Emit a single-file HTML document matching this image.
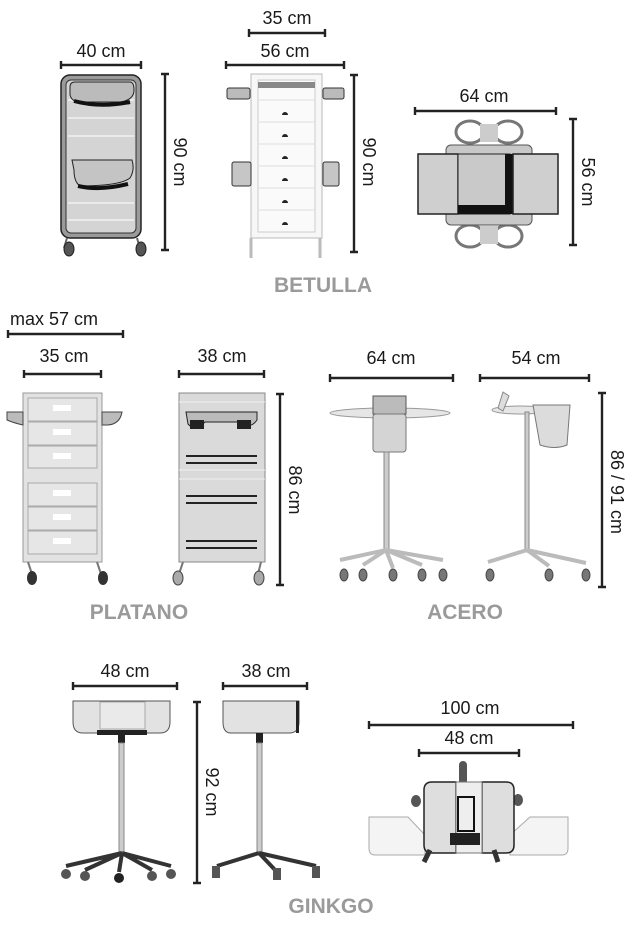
<!DOCTYPE html>
<html><head><meta charset="utf-8"><style>
html,body{margin:0;padding:0;background:#fff}
svg{display:block}
text{font-family:"Liberation Sans",Arial,sans-serif}
.d{font-size:18px;fill:#1a1a1a}
.t{font-size:21px;font-weight:bold;fill:#9a9a9a}
.dl{stroke:#222;stroke-width:2.4;fill:none}
.b{fill:#d9d9d9;stroke:#444;stroke-width:1.2}
.l{fill:#ececec;stroke:#888;stroke-width:1}
.w{fill:#f7f7f7;stroke:#bbb;stroke-width:1}
.k{fill:#222}
.g{fill:#555}
</style></head><body>
<svg width="639" height="925" viewBox="0 0 639 925" xmlns="http://www.w3.org/2000/svg">
<defs>
<g id="hd"><path class="dl" d="M0,-4V4"/></g>
</defs>
<!-- ===== BETULLA ===== -->
<!-- dims -->
<path class="dl" d="M249,33H325M249,29V37M325,29V37"/>
<text class="d" x="287" y="24" text-anchor="middle">35 cm</text>
<path class="dl" d="M226,65H344M226,61V69M344,61V69"/>
<text class="d" x="285" y="57" text-anchor="middle">56 cm</text>
<path class="dl" d="M61,65H141M61,61V69M141,61V69"/>
<text class="d" x="101" y="57" text-anchor="middle">40 cm</text>
<path class="dl" d="M165,74V250M161,74H169M161,250H169"/>
<text class="d" transform="translate(174,162) rotate(90)" text-anchor="middle">90 cm</text>
<path class="dl" d="M354,75V252M350,75H358M350,252H358"/>
<text class="d" transform="translate(363,162) rotate(90)" text-anchor="middle">90 cm</text>
<path class="dl" d="M415,111H556M415,107V115M556,107V115"/>
<text class="d" x="484" y="102" text-anchor="middle">64 cm</text>
<path class="dl" d="M573,119V245M569,119H577M569,245H577"/>
<text class="d" transform="translate(582,182) rotate(90)" text-anchor="middle">56 cm</text>
<!-- cart 1 -->
<rect x="61" y="75" width="80" height="163" rx="9" fill="#9a9a9a" stroke="#222" stroke-width="1.5"/>
<rect x="66" y="80" width="70" height="153" rx="5" fill="#d4d4d4" stroke="#333"/>
<path d="M68,100H134M68,118H134M68,136H134M68,203H134M68,220H134" stroke="#f2f2f2" stroke-width="1.5"/>
<path d="M70,87Q70,82 75,82H130Q134,82 134,90Q134,100 120,102H80Q72,102 70,95Z" fill="#bbb" stroke="#222"/>
<path d="M74,101Q100,108 130,102" stroke="#111" stroke-width="4" fill="none"/>
<path d="M72,160H132Q135,170 130,178Q120,186 80,186Q74,182 74,170Z" fill="#c4c4c4" stroke="#222"/>
<path d="M78,186Q100,191 128,184" stroke="#111" stroke-width="4" fill="none"/>
<path d="M67,238L64,248M137,238L140,248" stroke="#666" stroke-width="2"/>
<ellipse cx="69" cy="249" rx="5" ry="7" fill="#555" stroke="#222"/>
<ellipse cx="141" cy="249" rx="5" ry="7" fill="#555" stroke="#222"/>
<!-- cart 2 -->
<rect x="251" y="74" width="71" height="164" class="w"/>
<rect x="258" y="80" width="57" height="152" fill="#fafafa" stroke="#ccc"/>
<rect x="258" y="82" width="57" height="6" fill="#888"/>
<path d="M258,100H315M258,122H315M258,144H315M258,166H315M258,188H315M258,210H315" stroke="#ddd"/>
<g class="k"><path d="M282,115a3,3 0 0 1 6,0Z"/><path d="M282,137a3,3 0 0 1 6,0Z"/><path d="M282,159a3,3 0 0 1 6,0Z"/><path d="M282,181a3,3 0 0 1 6,0Z"/><path d="M282,203a3,3 0 0 1 6,0Z"/><path d="M282,225a3,3 0 0 1 6,0Z"/></g>
<rect x="227" y="88" width="23" height="11" rx="2" fill="#bbb" stroke="#333"/>
<rect x="323" y="88" width="21" height="11" rx="2" fill="#bbb" stroke="#333"/>
<rect x="232" y="162" width="19" height="24" rx="2" fill="#c6c6c6" stroke="#333"/>
<rect x="323" y="162" width="16" height="24" rx="2" fill="#c6c6c6" stroke="#333"/>
<path d="M251,238V258M320,238V258" stroke="#bbb" stroke-width="3"/>
<!-- top view -->
<g fill="none" stroke="#777" stroke-width="3">
<ellipse cx="470" cy="132" rx="14" ry="11"/><ellipse cx="508" cy="132" rx="14" ry="11"/>
<ellipse cx="470" cy="236" rx="14" ry="11"/><ellipse cx="508" cy="236" rx="14" ry="11"/>
</g>
<rect x="480" y="124" width="18" height="18" fill="#ccc"/>
<rect x="480" y="226" width="18" height="18" fill="#ccc"/>
<rect x="446" y="145" width="86" height="80" rx="5" fill="#c8c8c8" stroke="#555"/>
<rect x="418" y="154" width="40" height="60" fill="#cfcfcf" stroke="#222" stroke-width="1.5"/>
<rect x="458" y="154" width="52" height="60" fill="#c9c9c9" stroke="#222"/>
<rect x="458" y="205" width="52" height="9" fill="#111"/>
<rect x="505" y="154" width="8" height="60" fill="#111"/>
<rect x="513" y="154" width="45" height="60" fill="#cfcfcf" stroke="#222" stroke-width="1.5"/>
<text class="t" x="323" y="292" text-anchor="middle">BETULLA</text>

<!-- ===== PLATANO ===== -->
<path class="dl" d="M8,334H123M8,330V338M123,330V338"/>
<text class="d" x="10" y="325">max 57 cm</text>
<path class="dl" d="M24,374H101M24,370V378M101,370V378"/>
<text class="d" x="64" y="362" text-anchor="middle">35 cm</text>
<path class="dl" d="M179,374H264M179,370V378M264,370V378"/>
<text class="d" x="222" y="362" text-anchor="middle">38 cm</text>
<path class="dl" d="M280,394V585M276,394H284M276,585H284"/>
<text class="d" transform="translate(289,490) rotate(90)" text-anchor="middle">86 cm</text>
<!-- platano 1 -->
<rect x="23" y="393" width="79" height="169" fill="#e2e2e2" stroke="#999"/>
<g fill="#e6e6e6" stroke="#aaa">
<rect x="28" y="398" width="69" height="23"/><rect x="28" y="422" width="69" height="23"/><rect x="28" y="446" width="69" height="22"/>
<rect x="28" y="483" width="69" height="23"/><rect x="28" y="507" width="69" height="23"/><rect x="28" y="531" width="69" height="23"/>
</g>
<g fill="#fff"><rect x="53" y="405" width="18" height="6"/><rect x="53" y="429" width="18" height="6"/><rect x="53" y="453" width="18" height="6"/><rect x="53" y="490" width="18" height="6"/><rect x="53" y="514" width="18" height="6"/><rect x="53" y="538" width="18" height="6"/></g>
<path d="M7,412H23V425Q14,423 7,420Z" fill="#bbb" stroke="#444"/>
<path d="M102,412H122Q120,424 108,425H102Z" fill="#bbb" stroke="#444"/>
<path d="M28,562L32,574M97,562L101,574" stroke="#777" stroke-width="2"/>
<ellipse cx="32" cy="578" rx="5" ry="7" fill="#333"/><ellipse cx="103" cy="578" rx="5" ry="7" fill="#333"/>
<!-- platano 2 -->
<rect x="179" y="393" width="86" height="169" fill="#dadada" stroke="#888"/>
<path d="M179,402H265M179,470H265M179,479H265" stroke="#f0f0f0"/>
<path d="M186,412H257V420Q250,430 240,422H205Q195,432 188,424Z" fill="#bbb" stroke="#222"/>
<rect x="190" y="420" width="14" height="9" class="k"/><rect x="237" y="420" width="14" height="9" class="k"/>
<g class="k"><rect x="186" y="455" width="71" height="2"/><rect x="186" y="462" width="71" height="2"/><rect x="186" y="495" width="71" height="2"/><rect x="186" y="502" width="71" height="2"/><rect x="186" y="540" width="71" height="2"/><rect x="186" y="547" width="71" height="2"/></g>
<path d="M183,562L179,574M261,562L258,574" stroke="#777" stroke-width="2"/>
<ellipse cx="178" cy="578" rx="5" ry="7" fill="#aaa" stroke="#444"/><ellipse cx="259" cy="578" rx="5" ry="7" fill="#aaa" stroke="#444"/>
<text class="t" x="139" y="619" text-anchor="middle">PLATANO</text>

<!-- ===== ACERO ===== -->
<path class="dl" d="M330,378H453M330,374V382M453,374V382"/>
<text class="d" x="391" y="364" text-anchor="middle">64 cm</text>
<path class="dl" d="M480,378H589M480,374V382M589,374V382"/>
<text class="d" x="536" y="364" text-anchor="middle">54 cm</text>
<path class="dl" d="M602,393V587M598,393H606M598,587H606"/>
<text class="d" transform="translate(611,492) rotate(90)" text-anchor="middle">86 / 91 cm</text>
<!-- acero 1 -->
<ellipse cx="390" cy="413" rx="60" ry="5" fill="#e6e6e6" stroke="#999"/>
<rect x="373" y="396" width="33" height="18" fill="#bbb" stroke="#555"/>
<rect x="373" y="414" width="33" height="38" rx="3" fill="#d4d4d4" stroke="#777"/>
<rect x="384" y="452" width="5" height="100" fill="#ccc" stroke="#888"/>
<path d="M386,550L340,560M386,550L363,565M386,550L393,568M386,550L422,565M386,550L443,560" stroke="#bbb" stroke-width="4" fill="none"/>
<g fill="#777" stroke="#444"><ellipse cx="344" cy="575" rx="4" ry="6"/><ellipse cx="363" cy="575" rx="4" ry="6"/><ellipse cx="393" cy="575" rx="4" ry="6"/><ellipse cx="422" cy="575" rx="4" ry="6"/><ellipse cx="443" cy="575" rx="4" ry="6"/></g>
<!-- acero 2 -->
<ellipse cx="520" cy="410" rx="28" ry="4" fill="#e6e6e6" stroke="#999"/>
<path d="M503,392l6,4-6,15-5-3z" fill="#ddd" stroke="#888"/>
<path d="M533,405H570L567,445Q555,450 540,445Z" fill="#dcdcdc" stroke="#777"/>
<rect x="525" y="412" width="4" height="140" fill="#ccc" stroke="#888"/>
<path d="M527,550L488,562M527,550L549,566M527,550L586,563" stroke="#bbb" stroke-width="4" fill="none"/>
<g fill="#777" stroke="#444"><ellipse cx="490" cy="575" rx="4" ry="6"/><ellipse cx="549" cy="575" rx="4" ry="6"/><ellipse cx="586" cy="575" rx="4" ry="6"/></g>
<text class="t" x="465" y="619" text-anchor="middle">ACERO</text>

<!-- ===== GINKGO ===== -->
<path class="dl" d="M73,686H177M73,682V690M177,682V690"/>
<text class="d" x="125" y="677" text-anchor="middle">48 cm</text>
<path class="dl" d="M223,686H307M223,682V690M307,682V690"/>
<text class="d" x="266" y="677" text-anchor="middle">38 cm</text>
<path class="dl" d="M197,702V883M193,702H201M193,883H201"/>
<text class="d" transform="translate(206,792) rotate(90)" text-anchor="middle">92 cm</text>
<path class="dl" d="M369,725H573M369,721V729M573,721V729"/>
<text class="d" x="470" y="714" text-anchor="middle">100 cm</text>
<path class="dl" d="M419,753H519M419,749V757M519,749V757"/>
<text class="d" x="469" y="744" text-anchor="middle">48 cm</text>
<!-- ginkgo 1 -->
<path d="M73,701H170V722Q170,733 160,733H83Q73,733 73,722Z" fill="#e2e2e2" stroke="#555"/>
<rect x="100" y="702" width="45" height="27" fill="#eaeaea" stroke="#aaa"/>
<rect x="97" y="730" width="50" height="5" class="k"/>
<rect x="118" y="733" width="7" height="10" class="k"/>
<rect x="119" y="743" width="5" height="112" fill="#ccc" stroke="#888"/>
<path d="M122,853L66,866M122,853L85,870M122,853L119,872M122,853L152,870M122,853L171,866" stroke="#333" stroke-width="4" fill="none"/>
<g class="g"><circle cx="66" cy="874" r="5"/><circle cx="85" cy="876" r="5"/><circle cx="119" cy="878" r="5" fill="#222"/><circle cx="152" cy="876" r="5"/><circle cx="171" cy="874" r="5"/></g>
<!-- ginkgo 2 -->
<path d="M223,701H299V722Q299,733 289,733H231Q223,733 223,722Z" fill="#e2e2e2" stroke="#555"/>
<rect x="296" y="701" width="3" height="32" class="k"/>
<rect x="256" y="733" width="7" height="10" class="k"/>
<rect x="257" y="743" width="5" height="112" fill="#ccc" stroke="#888"/>
<path d="M259,853L217,866M259,853L277,872M259,853L316,866" stroke="#333" stroke-width="4" fill="none"/>
<g class="g"><rect x="212" y="866" width="8" height="12"/><rect x="273" y="868" width="8" height="12"/><rect x="312" y="866" width="8" height="12"/></g>
<!-- ginkgo top -->
<rect x="459" y="761" width="8" height="30" rx="4" fill="#555"/>
<ellipse cx="416" cy="801" rx="5" ry="6" class="g"/><ellipse cx="518" cy="800" rx="5" ry="6" class="g"/>
<path d="M369,817H408L425,835V855H375Q369,855 369,848Z" fill="#f4f4f4" stroke="#aaa"/>
<path d="M568,817H530L510,835V855H562Q568,855 568,848Z" fill="#f4f4f4" stroke="#aaa"/>
<path d="M424,790Q424,782 432,782H456V853H432Q424,853 424,845Z" fill="#dedede" stroke="#222" stroke-width="1.5"/>
<path d="M482,782H506Q514,782 514,790V845Q514,853 506,853H482Z" fill="#dedede" stroke="#222" stroke-width="1.5"/>
<rect x="456" y="782" width="26" height="71" fill="#eee" stroke="#777"/>
<rect x="458" y="797" width="16" height="34" fill="none" stroke="#111" stroke-width="2"/>
<rect x="450" y="833" width="30" height="12" class="k"/>
<path d="M430,850l-6,12M494,850l4,12" stroke="#333" stroke-width="5"/>
<text class="t" x="331" y="913" text-anchor="middle">GINKGO</text>
</svg>
</body></html>
